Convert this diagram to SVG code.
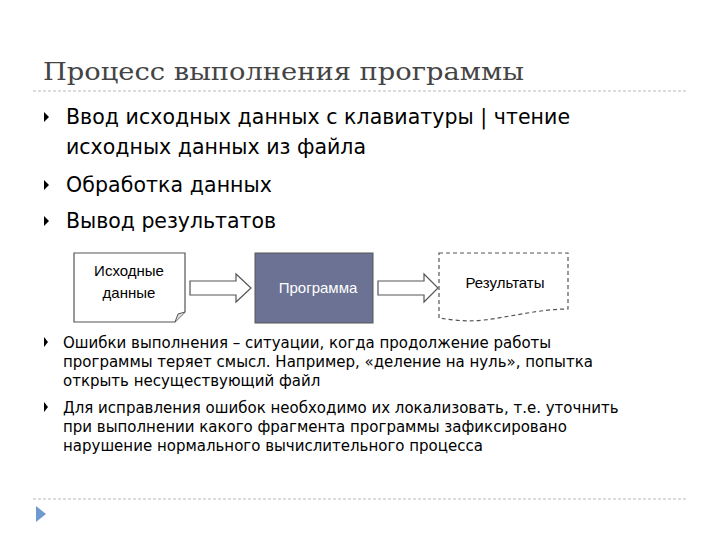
<svg xmlns="http://www.w3.org/2000/svg" width="720" height="540" viewBox="0 0 720 540">
<style>
.t{font-family:"DejaVu Sans",sans-serif;fill:#000}
.b{font-size:20.5px}
.s{font-size:15px}
.n{font-family:"Liberation Sans",Arial,sans-serif;font-size:15px}
.bul{fill:#000}
.sep{stroke:#bbb;stroke-dasharray:3,2;fill:none}
.arr{fill:#fff;stroke:#555;stroke-width:1.2}
</style>
<rect width="720" height="540" fill="#fff"/>
<text x="43" y="80" font-family="DejaVu Serif,serif" font-size="25" fill="#444" textLength="481" lengthAdjust="spacingAndGlyphs">Процесс выполнения программы</text>
<line class="sep" x1="33" y1="91" x2="688" y2="91"/>
<line class="sep" x1="33" y1="499" x2="688" y2="499"/>
<path d="M36 506 L46 514 L36 522Z" fill="#6e9ad0"/>
<g class="t">
<path class="bul" d="M44 112 L49 117 L44 122Z"/>
<text class="b" x="66" y="124" textLength="504">Ввод исходных данных с клавиатуры | чтение</text>
<text class="b" x="66" y="154" textLength="300">исходных данных из файла</text>
<path class="bul" d="M44 180 L49 185 L44 190Z"/>
<text class="b" x="66" y="192" textLength="206">Обработка данных</text>
<path class="bul" d="M44 216 L49 221 L44 226Z"/>
<text class="b" x="66" y="228" textLength="210">Вывод результатов</text>
<path class="bul" d="M44 337 L48 342 L44 347Z"/>
<text class="s" x="63" y="348">Ошибки выполнения – ситуации, когда продолжение работы</text>
<text class="s" x="63" y="367">программы теряет смысл. Например, «деление на нуль», попытка</text>
<text class="s" x="63" y="386">открыть несуществующий файл</text>
<path class="bul" d="M44 402 L48 407 L44 412Z"/>
<text class="s" x="63" y="413">Для исправления ошибок необходимо их локализовать, т.е. уточнить</text>
<text class="s" x="63" y="432">при выполнении какого фрагмента программы зафиксировано</text>
<text class="s" x="63" y="451">нарушение нормального вычислительного процесса</text>
</g>
<g id="input">
<path d="M74 253 H185 V312 L175 322 H74Z" fill="#fff" stroke="#555" stroke-width="1.2"/>
<path d="M175 322 L178 314 L185 312" fill="#ddd" stroke="#555"/>
<text class="n" x="129" y="276" text-anchor="middle">Исходные</text>
<text class="n" x="129" y="298" text-anchor="middle">данные</text>
</g>
<g id="program">
<rect x="255" y="253" width="118" height="70" fill="#6b7294" stroke="#555"/>
<text class="n" x="318" y="293" text-anchor="middle" fill="#fff">Программа</text>
</g>
<g id="result">
<path d="M439 253 H568 V309 C540 309 510 317 484 320 C466 322 452 320 439 318Z" fill="#fff" stroke="#555" stroke-dasharray="4,3" stroke-width="1.2"/>
<text class="n" x="505" y="288" text-anchor="middle">Результаты</text>
</g>
<g id="connectors">
<path class="arr" d="M190 281 H236 V274 L251 288 L236 302 V295 H190Z"/>
<path class="arr" d="M378 281 H424 V274 L438 288 L424 302 V295 H378Z"/>
</g>
</svg>
